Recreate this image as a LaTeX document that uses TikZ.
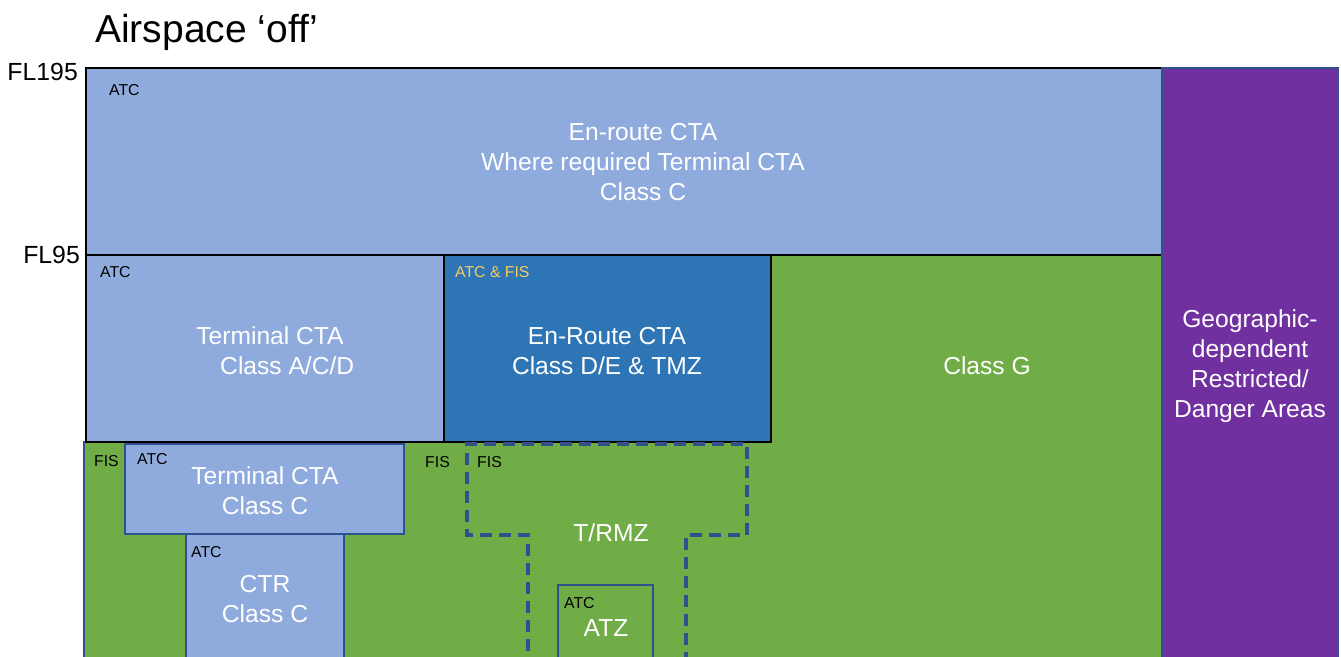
\documentclass[tikz,border=0pt]{standalone}
\usepackage{fontspec}
\setmainfont{Liberation Sans}

\definecolor{ctablue}{HTML}{8FAADC}
\definecolor{enroute}{HTML}{2E75B6}
\definecolor{classg}{HTML}{70AD47}
\definecolor{restrict}{HTML}{7030A0}
\definecolor{edgeblue}{HTML}{2F528F}
\definecolor{tagyellow}{HTML}{F5CB5C}

\begin{document}
\begin{tikzpicture}[
        x=1pt, y=-1pt,
        ctabox/.style={fill=ctablue, draw=black, line width=1.8pt},
        lowbox/.style={fill=ctablue, draw=edgeblue, line width=1.2pt},
        rmzline/.style={draw=edgeblue, line width=3.5pt, dash pattern=on 12pt off 7pt},
        zonetext/.style={text=white, align=center, inner sep=0pt, font=\fontsize{24.6}{30}\selectfont},
        tagtext/.style={anchor=base west, inner sep=0pt, font=\fontsize{15.8}{18}\selectfont},
        fltext/.style={anchor=base east, inner sep=0pt, font=\fontsize{24.8}{29}\selectfont}
    ]
    \useasboundingbox (0,0) rectangle (1341,656);
    \clip (0,0) rectangle (1341,656);

    % ==========================================
    % TITLE AND FLIGHT LEVELS
    % ==========================================
    \node[anchor=base west, inner sep=0pt, font=\fontsize{39}{44}\selectfont] (title) at (95,42) {Airspace ‘off’};
    \node[fltext] (fl195) at (78,80) {FL195};
    \node[fltext] (fl95) at (80,263) {FL95};

    % ==========================================
    % CLASS G (green background)
    % ==========================================
    \filldraw[fill=classg, draw=edgeblue, line width=1.2pt]
        (84,442) -- (771,442) -- (771,255) -- (1162,255) -- (1162,670) -- (84,670) -- cycle;
    \node[zonetext] (classg) at (987,366) {Class G};

    % ==========================================
    % UPPER BANDS
    % ==========================================
    \filldraw[ctabox] (86,68) rectangle (1162,255); % En-route CTA
    \node[tagtext] (atctop) at (109,95) {ATC};
    \node[zonetext] (enroutetop) at (643,162) {En-route CTA\\Where required Terminal CTA\\Class C};

    \filldraw[ctabox] (86,255) rectangle (444,442); % Terminal CTA A/C/D
    \node[tagtext] (atcterm) at (100,277) {ATC};
    \node[zonetext] (termacd) at (270,351) {Terminal CTA\\\hspace*{1.4em}Class A/C/D};

    \filldraw[fill=enroute, draw=black, line width=1.8pt] (444,255) rectangle (771,442); % En-Route CTA D/E
    \node[tagtext, text=tagyellow] (atcfis) at (455,277) {ATC \& FIS};
    \node[zonetext] (enroutede) at (607,351) {En-Route CTA\\Class D/E \& TMZ};

    % Restricted / danger areas
    \filldraw[fill=restrict, draw=edgeblue, line width=1.2pt] (1162,68) rectangle (1338,670);
    \node[zonetext] (danger) at (1250,366) {Geographic-\\dependent\\Restricted/\\Danger Areas};

    % ==========================================
    % LOWER AIRSPACE
    % ==========================================
    \node[tagtext] (fisleft) at (94,466) {FIS};
    \node[tagtext] (fismid) at (425,467) {FIS};

    \filldraw[lowbox] (125,444) rectangle (404,534); % Terminal CTA C
    \node[tagtext] (atctermc) at (137,464) {ATC};
    \node[zonetext] (termc) at (265,491) {Terminal CTA\\Class C};

    \filldraw[lowbox] (186,534) rectangle (344,670); % CTR
    \node[tagtext] (atcctr) at (191,557) {ATC};
    \node[zonetext] (ctr) at (265,599) {CTR\\Class C};

    % T/RMZ
    \draw[rmzline] (528,670) -- (528,535) -- (467,535) -- (467,444)
        -- (747,444) -- (747,535) -- (686,535) -- (686,670);
    \node[tagtext] (fisrmz) at (477,467) {FIS};
    \node[zonetext] (trmz) at (611,533) {T/RMZ};

    % ATZ
    \draw[draw=edgeblue, line width=1.2pt] (558,585) rectangle (653,670);
    \node[tagtext] (atcatz) at (564,608) {ATC};
    \node[zonetext] (atz) at (606,628) {ATZ};

\end{tikzpicture}
\end{document}
